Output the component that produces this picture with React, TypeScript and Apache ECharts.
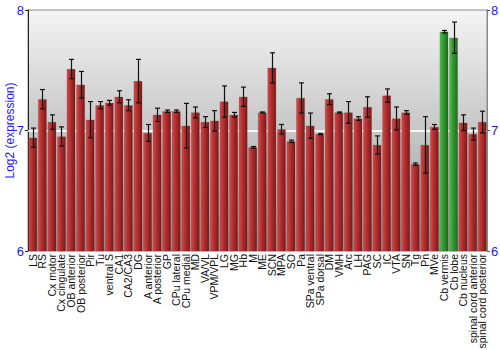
import React, { useEffect, useRef } from "react";
import * as echarts from "echarts";

const categories = [
  "LS", "RS", "Cx motor", "Cx cingulate", "OB anterior", "OB posterior", "Pir", "Tu",
  "ventral S", "CA1", "CA2/CA3", "DG", "A anterior", "A posterior", "GP", "CPu lateral",
  "CPu medial", "MD", "VA/VL", "VPM/VPL", "LG", "MG", "Hb", "M", "ME", "SCN", "MPA",
  "SO", "Pa", "SPa ventral", "SPa dorsal", "DM", "VMH", "Arc", "LH", "PAG", "SC", "IC",
  "VTA", "SN", "Tg", "Pn", "MVe", "Cb vermis", "Cb lobe", "Cb nucleus",
  "spinal cord anterior", "spinal cord posterior",
];

const values = [
  6.94, 7.26, 7.07, 6.95, 7.51, 7.38, 7.09, 7.21,
  7.23, 7.28, 7.21, 7.41, 6.98, 7.13, 7.16, 7.16,
  7.04, 7.15, 7.07, 7.08, 7.24, 7.13, 7.28, 6.86, 7.15, 7.52, 7.01,
  6.91, 7.27, 7.04, 6.97, 7.26, 7.15, 7.15, 7.10, 7.195, 6.88, 7.29,
  7.10, 7.15, 6.72, 6.88, 7.03, 7.82, 7.77, 7.065,
  6.97, 7.07,
];

const errors = [
  0.08, 0.08, 0.06, 0.08, 0.08, 0.11, 0.15, 0.03,
  0.02, 0.05, 0.045, 0.18, 0.07, 0.055, 0.01, 0.01,
  0.185, 0.045, 0.045, 0.085, 0.13, 0.02, 0.08, 0.007, 0.004, 0.125, 0.04,
  0.01, 0.125, 0.105, 0.004, 0.045, 0.004, 0.09, 0.015, 0.085, 0.075, 0.055,
  0.095, 0.015, 0.01, 0.235, 0.02, 0.01, 0.13, 0.065,
  0.05, 0.09,
];

const highlighted = ["Cb vermis", "Cb lobe"];

const yTicks = { min: 6, max: 8, interval: 1 };

const redFill = new echarts.graphic.LinearGradient(0, 0, 1, 0, [
  { offset: 0, color: "#d04c4c" },
  { offset: 0.35, color: "#b83232" },
  { offset: 1, color: "#7e1818" },
]);
const greenFill = new echarts.graphic.LinearGradient(0, 0, 1, 0, [
  { offset: 0, color: "#55c055" },
  { offset: 0.35, color: "#33a033" },
  { offset: 1, color: "#1c6e1c" },
]);

export default function App() {
  const ref = useRef<HTMLDivElement>(null);

  useEffect(() => {
    if (!ref.current) return;
    const chart = echarts.init(ref.current, undefined, { renderer: "svg" });

    const barData = values.map((v, i) => ({
      value: v,
      itemStyle: {
        color: highlighted.includes(categories[i]) ? greenFill : redFill,
      },
    }));
    const errData = values.map((v, i) => [i, v - errors[i], v + errors[i]]);

    const yLabel = { color: "#1a1aff", fontSize: 13, fontFamily: "Liberation Sans, Arial, sans-serif" };

    chart.setOption({
      animation: false,
      backgroundColor: "#ffffff",
      grid: {
        left: 28,
        right: 13,
        top: 10,
        bottom: 99,
        containLabel: false,
        outerBoundsMode: "none",
        show: true,
        borderColor: "#8a8a8a",
        borderWidth: 1,
        backgroundColor: new echarts.graphic.LinearGradient(0, 0, 0, 1, [
          { offset: 0, color: "#f4f4f4" },
          { offset: 0.5, color: "#c6c6c6" },
          { offset: 1, color: "#999999" },
        ]),
      },
      xAxis: {
        type: "category",
        data: categories,
        axisLine: { show: false },
        axisTick: { show: false },
        axisLabel: {
          interval: 0,
          rotate: 90,
          margin: 3,
          color: "#111",
          fontSize: 10.5,
          fontFamily: "Liberation Sans, Arial, sans-serif",
        },
      },
      yAxis: [
        {
          type: "value",
          ...yTicks,
          position: "left",
          name: "Log2 (expression)",
          nameLocation: "middle",
          nameGap: 12,
          nameMoveOverlap: false,
          nameTextStyle: { color: "#1a1aff", fontSize: 12, fontFamily: "Liberation Sans, Arial, sans-serif" },
          axisLine: { show: true, lineStyle: { color: "#222" } },
          axisTick: { show: true, length: 3, lineStyle: { color: "#222" } },
          axisLabel: { ...yLabel, margin: 4 },
          splitLine: { show: false },
        },
        {
          type: "value",
          ...yTicks,
          position: "right",
          axisLine: { show: true, lineStyle: { color: "#888" } },
          axisTick: { show: true, length: 3, lineStyle: { color: "#555" } },
          axisLabel: { ...yLabel, margin: 4 },
          splitLine: { show: false },
        },
      ],
      series: [
        {
          type: "bar",
          data: barData,
          barCategoryGap: "10%",
          itemStyle: { borderColor: "rgba(90,10,10,0.35)", borderWidth: 0.5 },
          markLine: {
            silent: true,
            symbol: "none",
            label: { show: false },
            lineStyle: { color: "#ffffff", width: 2, type: "solid", opacity: 0.85 },
            data: [{ yAxis: 7 }],
            z: 1,
          },
        },
        {
          type: "custom",
          data: errData,
          z: 10,
          renderItem: (params: any, api: any) => {
            const x = api.value(0);
            const lo = api.coord([x, api.value(1)]);
            const hi = api.coord([x, api.value(2)]);
            const cx = Math.round(lo[0]) + 0.5;
            const hw = 2.5;
            const style = { stroke: "#111", lineWidth: 1.2 };
            return {
              type: "group",
              children: [
                { type: "line", shape: { x1: cx, y1: hi[1], x2: cx, y2: lo[1] }, style },
                { type: "line", shape: { x1: cx - hw, y1: hi[1], x2: cx + hw, y2: hi[1] }, style },
                { type: "line", shape: { x1: cx - hw, y1: lo[1], x2: cx + hw, y2: lo[1] }, style },
              ],
            };
          },
        },
      ],
    });

    return () => chart.dispose();
  }, []);

  return (
    <div
      ref={ref}
      style={{ position: "fixed", left: 0, top: 0, width: 500, height: 350 }}
    />
  );
}
